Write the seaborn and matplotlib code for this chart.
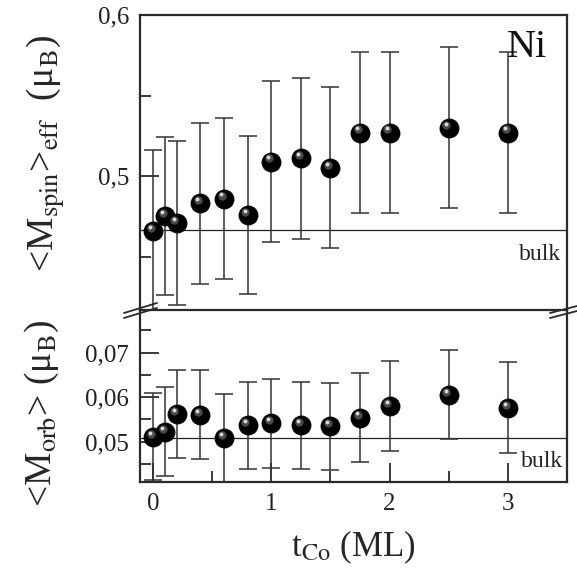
import numpy as np
import pandas as pd
import matplotlib
matplotlib.use("Agg")
import matplotlib.pyplot as plt
import seaborn as sns
from matplotlib.transforms import offset_copy
from matplotlib.lines import Line2D

# ---------------- data ----------------
t_co = [0.0, 0.1, 0.2, 0.4, 0.6, 0.8, 1.0, 1.25, 1.5, 1.75, 2.0, 2.5, 3.0]
m_spin = [0.466, 0.475, 0.471, 0.483, 0.486, 0.476, 0.509, 0.511, 0.505, 0.527, 0.527, 0.530, 0.527]
m_spin_err = [0.050, 0.049, 0.051, 0.050, 0.050, 0.049, 0.050, 0.050, 0.050, 0.050, 0.050, 0.050, 0.050]
m_orb = [0.0511, 0.0522, 0.0561, 0.0560, 0.0508, 0.0537, 0.0541, 0.0537, 0.0534, 0.0554, 0.0580, 0.0605, 0.0576]
m_orb_err = [0.0098, 0.0100, 0.0099, 0.0100, 0.0099, 0.0098, 0.0100, 0.0098, 0.0097, 0.0100, 0.0101, 0.0100, 0.0102]
spin_bulk = 0.4665
orb_bulk = 0.0509

x_ticks = [0, 1, 2, 3]
x_ticklabels = ["0", "1", "2", "3"]
x_minor = [0.5, 1.5, 2.5]
spin_ticks = [0.5, 0.6]
spin_ticklabels = ["0,5", "0,6"]
spin_minor = [0.45, 0.55]
orb_ticks = [0.05, 0.06, 0.07]
orb_ticklabels = ["0,05", "0,06", "0,07"]
orb_minor = [0.045, 0.055, 0.065, 0.075]

df = pd.DataFrame({"t": t_co, "spin": m_spin, "spin_err": m_spin_err,
                   "orb": m_orb, "orb_err": m_orb_err})

# ---------------- style ----------------
sns.set_style("ticks")
plt.rcParams["font.family"] = ["Liberation Serif", "DejaVu Serif"]
plt.rcParams["mathtext.fontset"] = "stix"

W, H = 577, 579
fig = plt.figure(figsize=(W / 100, H / 100), dpi=100)
L, R = 140 / W, 567 / W
ax1 = fig.add_axes([L, 1 - 310 / H, R - L, (310 - 15) / H])
ax2 = fig.add_axes([L, 1 - 482 / H, R - L, (482 - 310) / H])

spine_c = "#2a2a2a"
err_c = "#333333"


def draw(ax, ycol, ecol, bulk):
    ax.errorbar(df["t"], df[ycol], yerr=df[ecol], fmt="none", ecolor=err_c,
                elinewidth=1.1, capsize=6.5, capthick=1.1, zorder=2)
    ax.axhline(bulk, color="#222222", lw=0.9, zorder=1)
    sns.scatterplot(data=df, x="t", y=ycol, ax=ax, s=190, color="black",
                    edgecolor="black", linewidth=0.5, zorder=3, legend=False)
    tr1 = offset_copy(ax.transData, fig=fig, x=-1.6, y=2.2, units="points")
    ax.plot(df["t"], df[ycol], "o", ms=6, color="#4a4a4a", mec="none",
            transform=tr1, zorder=4)
    tr2 = offset_copy(ax.transData, fig=fig, x=-2.2, y=3.0, units="points")
    ax.plot(df["t"], df[ycol], "o", ms=2.8, color="#d8d8d8", mec="none",
            transform=tr2, zorder=5)
    ax.set_xlim(-0.11, 3.5)
    for s in ax.spines.values():
        s.set_color(spine_c)
        s.set_linewidth(1.6)
    ax.tick_params(which="both", direction="in", colors=spine_c, width=1.3,
                   labelsize=18, pad=8, labelcolor="#222222")
    ax.tick_params(which="major", length=14)
    ax.tick_params(which="minor", length=8)
    ax.set_xlabel("")
    ax.set_ylabel("")


draw(ax1, "spin", "spin_err", spin_bulk)
draw(ax2, "orb", "orb_err", orb_bulk)

# top panel
ax1.set_ylim(0.4168, 0.6)
ax1.set_yticks(spin_ticks)
ax1.set_yticklabels(spin_ticklabels)
ax1.set_yticks(spin_minor, minor=True)
ax1.set_xticks([])
ax1.spines["bottom"].set_visible(False)
ax1.tick_params(axis="x", which="both", bottom=False, labelbottom=False)
ax1.set_ylabel(r"<M$_{\rm spin}$>$_{\rm eff}$  (μ$_{\rm B}$)", fontsize=27)
ax1.yaxis.set_label_coords(-0.17, 0.53)
ax1.text(3.16, 0.580, "Ni", fontsize=29, ha="center", va="center", color="#111111")
ax1.text(3.45, 0.4515, "bulk", fontsize=17, ha="right", va="center", color="#222222")

# bottom panel
ax2.set_ylim(0.0409, 0.0796)
ax2.set_yticks(orb_ticks)
ax2.set_yticklabels(orb_ticklabels)
ax2.set_yticks(orb_minor, minor=True)
ax2.set_xticks(x_ticks)
ax2.set_xticklabels(x_ticklabels)
ax2.set_xticks(x_minor, minor=True)
ax2.set_ylabel(r"<M$_{\rm orb}$> (μ$_{\rm B}$)", fontsize=27)
ax2.yaxis.set_label_coords(-0.185, 0.40)
ax2.set_xlabel(r"t$_{\rm Co}$ (ML)", fontsize=25, labelpad=10)
ax2.text(3.47, 0.0456, "bulk", fontsize=17, ha="right", va="center", color="#222222")

# axis-break marks
for (x1, y1, x2, y2) in [(124, 313, 157, 303), (124, 318, 157, 308),
                         (550, 313, 577, 306), (550, 318, 577, 311)]:
    fig.add_artist(Line2D([x1 / W, x2 / W], [1 - y1 / H, 1 - y2 / H],
                          color=spine_c, lw=1.3))

fig.savefig("out.png", dpi=100, facecolor="white")
